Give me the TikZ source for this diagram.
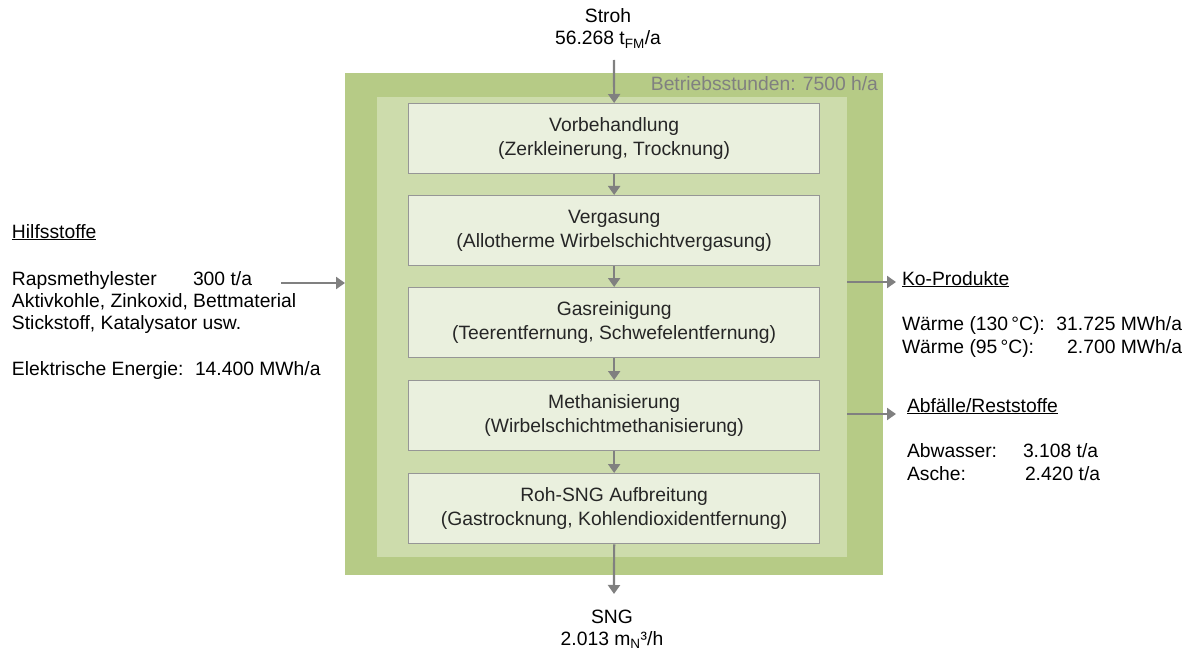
\documentclass[tikz,border=0pt]{standalone}
\usepackage{fontspec}
\setmainfont{Liberation Sans}
\usetikzlibrary{arrows.meta}
\definecolor{outergreen}{RGB}{182,203,134}
\definecolor{innergreen}{RGB}{205,220,172}
\definecolor{boxfill}{RGB}{234,240,222}
\definecolor{boxline}{RGB}{150,150,150}
\definecolor{arrowgray}{RGB}{128,128,128}
\definecolor{boxtext}{RGB}{38,38,38}
\tikzset{
  txt/.style={inner sep=0pt, outer sep=0pt, font=\fontsize{19.3}{23.5}\selectfont},
  procbox/.style={draw=boxline, line width=1.3pt, fill=boxfill, anchor=north west,
    minimum width=411pt, minimum height=70pt, inner sep=0pt, align=center, text=boxtext,
    font=\fontsize{19.3}{23.5}\selectfont},
  flow/.style={draw=arrowgray, line width=2.2pt, -{Triangle[length=9pt,width=12pt]}},
}
\begin{document}
\begin{tikzpicture}[x=1pt,y=-1pt]
\useasboundingbox (0,0) rectangle (1187,650);
% frames
\node[fill=outergreen, anchor=north west, minimum width=538pt, minimum height=502pt, inner sep=0pt, outer sep=0pt] (outer) at (345,73) {};
\node[fill=innergreen, anchor=north west, minimum width=470pt, minimum height=460pt, inner sep=0pt, outer sep=0pt] (inner) at (377,97) {};
\node[txt, anchor=base east, text=arrowgray] (hours) at (878,91) {Betriebsstunden: 7500 h/a};
% process boxes
\node[procbox] (b1) at (408,103) {Vorbehandlung\\(Zerkleinerung, Trocknung)};
\node[procbox] (b2) at (408,195) {Vergasung\\(Allotherme Wirbelschichtvergasung)};
\node[procbox] (b3) at (408,287) {Gasreinigung\\(Teerentfernung, Schwefelentfernung)};
\node[procbox] (b4) at (408,380) {Methanisierung\\(Wirbelschichtmethanisierung)};
\node[procbox] (b5) at (408,473) {Roh-SNG Aufbreitung\\(Gastrocknung, Kohlendioxidentfernung)};
\draw[flow] (b1.south) -- (b2.north);
\draw[flow] (b2.south) -- (b3.north);
\draw[flow] (b3.south) -- (b4.north);
\draw[flow] (b4.south) -- (b5.north);
% input top
\node[txt, anchor=base] (stroh) at (608,23) {Stroh};
\node[txt, anchor=base] (strohval) at (608,45) {56.268 t\textsubscript{FM}/a};
\coordinate (strohstart) at (614,60);
\draw[flow] (strohstart) -- (b1.north);
% output bottom
\coordinate (sngend) at (614,594);
\draw[flow] (b5.south) -- (sngend);
\node[txt, anchor=base] (sng) at (612,623) {SNG};
\node[txt, anchor=base] (sngval) at (612,645) {2.013 m\textsubscript{N}³/h};
% left inputs
\node[txt, anchor=base west] (hilf) at (12,238) {\underline{Hilfsstoffe}};
\node[txt, anchor=base west] (raps) at (12,285) {Rapsmethylester};
\node[txt, anchor=base west] (rapsval) at (193,285) {300 t/a};
\node[txt, anchor=base west] (aktiv) at (12,307) {Aktivkohle, Zinkoxid, Bettmaterial};
\node[txt, anchor=base west] (stick) at (12,329) {Stickstoff, Katalysator usw.};
\node[txt, anchor=base west] (elek) at (12,375) {Elektrische Energie:};
\node[txt, anchor=base west] (elekval) at (195,375) {14.400 MWh/a};
\coordinate (hilfstart) at (281,283);
\draw[flow] (hilfstart) -- (outer.west |- hilfstart);
% right outputs
\coordinate (koend) at (896,282);
\draw[flow] (inner.east |- koend) -- (koend);
\node[txt, anchor=base west] (ko) at (902,285) {\underline{Ko-Produkte}};
\node[txt, anchor=base west] (w1) at (902,330) {Wärme (130\,°C):};
\node[txt, anchor=base east] (w1val) at (1182,330) {31.725 MWh/a};
\node[txt, anchor=base west] (w2) at (902,353) {Wärme (95\,°C):};
\node[txt, anchor=base east] (w2val) at (1182,353) {2.700 MWh/a};
\coordinate (abend) at (896,414);
\draw[flow] (inner.east |- abend) -- (abend);
\node[txt, anchor=base west] (abf) at (907,412) {\underline{Abfälle/Reststoffe}};
\node[txt, anchor=base west] (abw) at (907,457) {Abwasser:};
\node[txt, anchor=base west] (abwval) at (1023,457) {3.108 t/a};
\node[txt, anchor=base west] (asche) at (907,480) {Asche:};
\node[txt, anchor=base west] (ascheval) at (1025,480) {2.420 t/a};
\end{tikzpicture}
\end{document}
